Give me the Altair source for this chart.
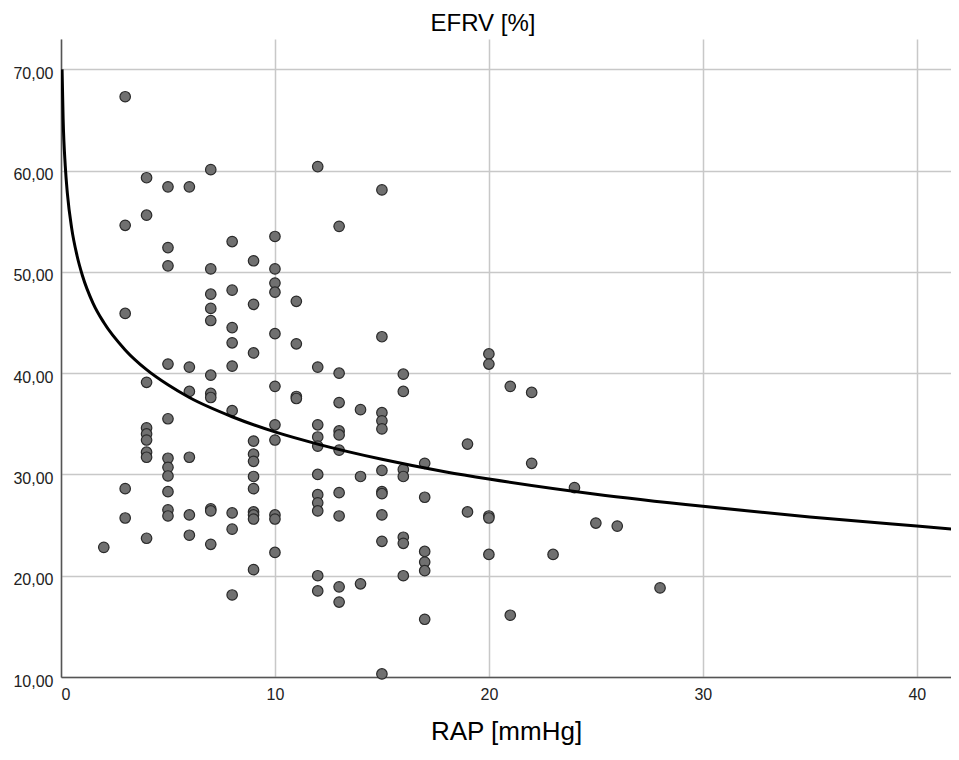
import altair as alt
import pandas as pd

# RAP [mmHg] values of the observations
rap = (
    [2]
    + [3] * 5
    + [4] * 9
    + [5] * 11
    + [6] * 6
    + [7] * 11
    + [8] * 9
    + [9] * 12
    + [10] * 11
    + [11] * 4
    + [12] * 11
    + [13] * 10
    + [14] * 3
    + [15] * 11
    + [16] * 7
    + [17] * 6
    + [19] * 2
    + [20] * 5
    + [21] * 2
    + [22] * 2
    + [23, 24, 25, 26, 28]
)

# EFRV [%] values, in the same order as rap
efrv = (
    [22.8]
    + [67.3, 54.6, 45.9, 28.6, 25.7]
    + [59.3, 55.6, 39.1, 34.6, 34.0, 33.4, 32.2, 31.7, 23.7]
    + [58.4, 52.4, 50.6, 40.9, 35.5, 31.6, 30.7, 29.85, 28.3, 26.5, 25.9]
    + [58.4, 40.6, 38.2, 31.7, 26.0, 24.0]
    + [60.1, 50.3, 47.8, 46.4, 45.2, 39.8, 38.0, 37.6, 26.6, 26.4, 23.1]
    + [53.0, 48.2, 44.5, 43.0, 40.7, 36.3, 26.2, 24.6, 18.1]
    + [51.1, 46.8, 42.0, 33.3, 32.0, 31.3, 29.8, 28.6, 26.3, 26.0, 25.6, 20.6]
    + [53.5, 50.3, 48.9, 48.0, 43.9, 38.7, 34.9, 33.4, 26.0, 25.6, 22.3]
    + [47.1, 42.9, 37.7, 37.5]
    + [60.4, 40.6, 34.9, 33.7, 32.8, 30.0, 28.0, 27.2, 26.4, 20.0, 18.5]
    + [54.5, 40.0, 37.1, 34.3, 33.9, 32.4, 28.2, 25.9, 18.9, 17.4]
    + [36.4, 29.8, 19.2]
    + [58.1, 43.6, 36.1, 35.3, 34.5, 30.4, 28.3, 28.1, 26.0, 23.4, 10.3]
    + [39.9, 38.2, 30.5, 29.8, 23.8, 23.2, 20.0]
    + [31.1, 27.75, 22.4, 21.35, 20.5, 15.7]
    + [33.0, 26.3]
    + [41.9, 40.9, 25.9, 25.7, 22.1]
    + [38.7, 16.1]
    + [38.1, 31.1]
    + [22.1, 28.7, 25.2, 24.9, 18.8]
)

# Fitted curve
fit_rap = [0.05, 0.1, 0.2, 0.3, 0.5, 0.75, 1, 1.5, 2, 3, 4, 5, 6, 8, 10,
           12, 15, 18, 20, 25, 30, 35, 40, 42]
fit_efrv = [70.0, 65.1, 60.45, 57.7, 54.3, 51.6, 49.65, 46.9, 45.0, 42.3,
            40.35, 38.85, 37.6, 35.7, 34.2, 33.0, 31.5, 30.25, 29.55, 28.05,
            26.85, 25.8, 24.9, 24.55]

x_ticks = [0, 10, 20, 30, 40]
y_ticks = [10, 20, 30, 40, 50, 60, 70]

pts = pd.DataFrame({"RAP": rap, "EFRV": efrv})
fit = pd.DataFrame({"RAP": fit_rap, "EFRV": fit_efrv})

x_scale = alt.Scale(domain=[0, 41.6], nice=False, zero=False)
y_scale = alt.Scale(domain=[10, 73], nice=False, zero=False)

x_axis = alt.Axis(
    values=x_ticks, title="RAP [mmHg]", grid=True, ticks=False,
    labelFontSize=16, labelColor="#222222", labelPadding=9,
    titleFontSize=26, titleFontWeight="normal", titleColor="#000000",
    titlePadding=16, domainColor="#555555", domainWidth=1.5,
    gridColor="#c8c8c8", gridWidth=1.5, labelFont="Liberation Sans",
    titleFont="Liberation Sans",
)
y_axis = alt.Axis(
    values=y_ticks, title=None, grid=True, ticks=False,
    labelFontSize=16, labelColor="#222222", labelPadding=8, labelOffset=4,
    labelExpr="replace(format(datum.value, '.2f'), '.', ',')",
    domainColor="#555555", domainWidth=1.5,
    gridColor="#c8c8c8", gridWidth=1.5, labelFont="Liberation Sans",
)

points = alt.Chart(pts).mark_circle(
    size=110, opacity=1, fill="#707070", stroke="#2a2a2a", strokeWidth=1.2
).encode(
    x=alt.X("RAP:Q", scale=x_scale, axis=x_axis),
    y=alt.Y("EFRV:Q", scale=y_scale, axis=y_axis),
)

curve = alt.Chart(fit).mark_line(
    color="#000000", strokeWidth=3, interpolate="monotone", clip=True
).encode(
    x=alt.X("RAP:Q", scale=x_scale),
    y=alt.Y("EFRV:Q", scale=y_scale),
)

chart = alt.layer(points, curve).properties(
    width=890,
    height=638,
    autosize=alt.AutoSizeParams(type="none"),
    padding={"left": 53, "top": 31, "right": 0, "bottom": 74},
    title=alt.TitleParams(
        text="EFRV [%]", fontSize=24, fontWeight="normal", color="#000000",
        anchor="middle", dx=-23, offset=3, font="Liberation Sans",
    ),
).configure_view(stroke=None)

chart.save("out.html", embed_options={"renderer": "svg", "actions": False})
